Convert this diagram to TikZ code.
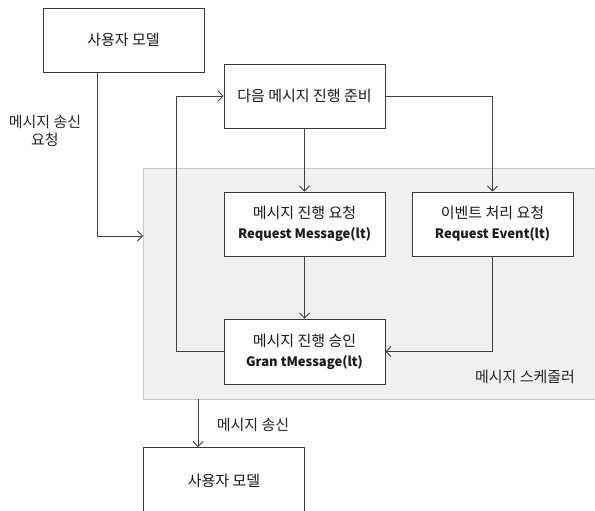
\documentclass[tikz,border=0pt]{standalone}
\usepackage{fontspec}
\setmainfont{Noto Sans CJK KR}
\usetikzlibrary{arrows.meta}
\definecolor{boxline}{HTML}{3A3A3A}
\definecolor{wire}{HTML}{404040}
\definecolor{schedfill}{HTML}{F0F0F0}
\definecolor{schedline}{HTML}{C8C8C8}
\newcommand{\eng}[1]{{\fontsize{13}{20}\selectfont\bfseries #1}}
\tikzset{
  procbox/.style={draw=boxline, line width=0.9pt, fill=white, minimum width=161pt,
    minimum height=64pt, inner sep=2pt, align=center, text=black!90,
    font=\fontsize{15}{20}\selectfont},
  region/.style={draw=schedline, line width=0.9pt, fill=schedfill, minimum width=457pt,
    minimum height=231pt, inner sep=0pt},
  wirearrow/.style={draw=wire, line width=0.8pt, -{Straight Barb[length=5pt,width=10pt]}},
  plainlabel/.style={align=center, font=\fontsize{15}{18.5}\selectfont, text=black!85}
}
\begin{document}
\begin{tikzpicture}[x=1pt, y=-1pt]
  \useasboundingbox (0,0) rectangle (595,511);
  \fill[white] (0,0) rectangle (595,511);

  % scheduler area
  \node[region] (sched) at (371.5,283.5) {};
  \node[plainlabel] (schedname) at (525,377) {메시지 스케줄러};

  % process boxes
  \node[procbox] (usertop) at (123.5,40) {사용자 모델};
  \node[procbox] (next) at (304.5,96) {다음 메시지 진행 준비};
  \node[procbox] (reqmsg) at (304.5,224) {메시지 진행 요청\\\eng{Request Message(lt)}};
  \node[procbox] (reqevt) at (492.5,224) {이벤트 처리 요청\\\eng{Request Event(lt)}};
  \node[procbox, minimum height=65pt] (grant) at (304.5,351.5) {메시지 진행 승인\\\eng{Gran tMessage(lt)}};
  \node[procbox, minimum height=66pt, anchor=north] (userbot) at (224,447) {사용자 모델};

  % helper points
  \coordinate (entry) at (143,236);
  \coordinate (loopx) at (176,0);
  \coordinate (outx) at (198,0);

  % connectors
  \draw[wirearrow] (usertop.south -| 97,0) |- (entry);
  \draw[wirearrow] (grant.west) -- (grant.west -| loopx) |- (next.west);
  \draw[wirearrow] (next.south) -- (reqmsg.north);
  \draw[wirearrow] (next.east) -| (reqevt.north);
  \draw[wirearrow] (reqmsg.south) -- (grant.north);
  \draw[wirearrow] (reqevt.south) |- (grant.east);
  \draw[wirearrow] (sched.south -| outx) -- (userbot.north -| outx);

  % labels
  \node[plainlabel] (sendreq) at (45,131) {메시지 송신\\요청};
  \node[plainlabel] (send) at (253,425) {메시지 송신};
\end{tikzpicture}
\end{document}
